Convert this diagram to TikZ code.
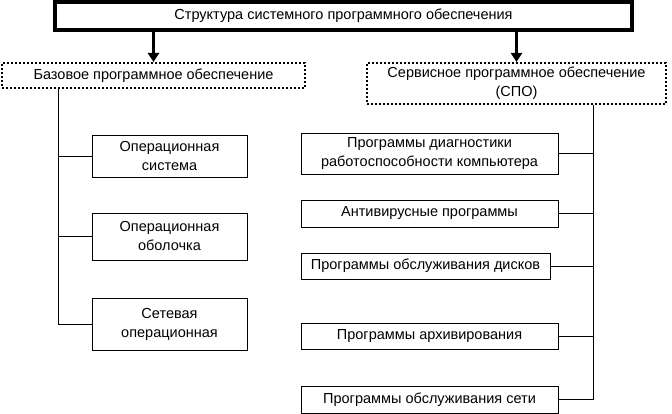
\documentclass[tikz,border=0pt]{standalone}
\usepackage{fontspec}
\setmainfont{Liberation Sans}
\usetikzlibrary{arrows.meta}

\begin{document}
\begin{tikzpicture}[x=1pt,y=-1pt,
    every node/.style={font=\fontsize{14.5}{19}\selectfont,align=center,inner sep=0pt},
    mainbox/.style={draw,line width=4pt,minimum width=577pt,minimum height=28pt},
    groupbox/.style={draw,line width=2pt,dash pattern=on 2pt off 2pt},
    itembox/.style={draw,line width=0.8pt},
    bigarrow/.style={line width=3pt,-{Triangle[width=11pt,length=9pt]}},
    bus/.style={line width=0.8pt}]
        \useasboundingbox (0,0) rectangle (672,414);
        % Title
        \node[mainbox] (spo) at (343.5,16) {Структура системного программного обеспечения};
        % Groups
        \node[groupbox,minimum width=303pt,minimum height=25pt] (base) at (153.5,75.5) {Базовое программное обеспечение};
        \node[groupbox,minimum width=299pt,minimum height=41pt] (serv) at (516.5,83.5) {Сервисное программное обеспечение\\(СПО)};
        \draw[bigarrow] (base.north |- spo.south) -- (base.north);
        \draw[bigarrow] (serv.north |- spo.south) -- (serv.north);
        % Base software
        \node[itembox,minimum width=155pt,minimum height=42pt] (os) at (169.5,156) {Операционная\\система};
        \node[itembox,minimum width=155pt,minimum height=47pt] (shell) at (169.5,236.5) {Операционная\\оболочка};
        \node[itembox,minimum width=155pt,minimum height=52pt] (netos) at (169.5,324) {Сетевая\\операционная};
        % Service software
        \node[itembox,minimum width=257pt,minimum height=41pt] (diag) at (429.5,153.5) {Программы диагностики\\работоспособности компьютера};
        \node[itembox,minimum width=257pt,minimum height=27pt] (virus) at (429.5,213.5) {Антивирусные программы};
        \node[itembox,minimum width=249pt,minimum height=26pt] (disk) at (425.5,266) {Программы обслуживания дисков};
        \node[itembox,minimum width=257pt,minimum height=26pt] (arch) at (429.5,336) {Программы архивирования};
        \node[itembox,minimum width=257pt,minimum height=27pt] (netw) at (429.5,399.5) {Программы обслуживания сети};
        % Buses
        \coordinate (ltop) at (58,89);
        \coordinate (rtop) at (593,105);
        \foreach \n in {os,shell,netos} {
          \draw[bus] (ltop) |- (\n.west);
        }
        \foreach \n in {diag,virus,disk,arch,netw} {
          \draw[bus] (rtop) |- (\n.east);
        }
    \end{tikzpicture}
\end{document}
